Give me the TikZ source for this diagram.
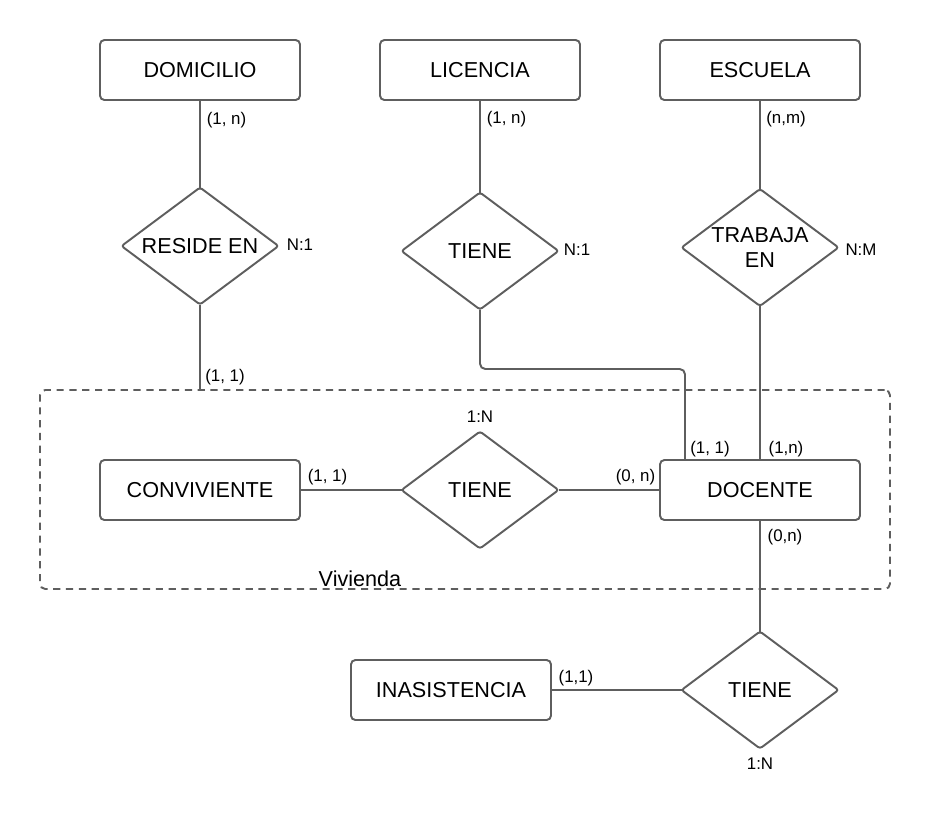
\documentclass[tikz,border=0pt]{standalone}
\usepackage{fontspec}
\setmainfont{Liberation Sans}
\usetikzlibrary{shapes.geometric, positioning, calc}
\definecolor{linegray}{RGB}{94, 94, 94}

\begin{document}
\begin{tikzpicture}[
    entity/.style={rectangle, rounded corners=2.5pt, draw=linegray, line width=1.1pt, fill=white, minimum width=4cm, minimum height=1.2cm, align=center, font=\fontsize{12.3}{14.7}\selectfont},
    relation/.style={diamond, aspect=1.34, rounded corners=1.5pt, draw=linegray, line width=1.1pt, fill=white, minimum width=3.14cm, minimum height=2.34cm, inner sep=0pt, outer sep=0pt, align=center, font=\fontsize{12.3}{14.7}\selectfont},
    group/.style={rectangle, rounded corners=3pt, draw=linegray, line width=1.1pt, dash pattern=on 4.1pt off 3.2pt, minimum width=17cm, minimum height=3.98cm},
    conn/.style={draw=linegray, line width=1.1pt},
    card/.style={font=\fontsize{9.6}{11}\selectfont, inner sep=1pt}
]
\useasboundingbox (0, 0) rectangle (18.62, -16.7);

% Agrupacion Vivienda
\node[group] (vivienda) at (9.3, -9.79) {};
\node[font=\fontsize{12.3}{14.7}\selectfont] (viv_lbl) at (7.2, -11.58) {Vivienda};

% === Entidades ===
\node[entity] (domicilio) at (4, -1.4) {DOMICILIO};
\node[entity] (licencia) at (9.6, -1.4) {LICENCIA};
\node[entity] (escuela) at (15.2, -1.4) {ESCUELA};
\node[entity] (conviviente) at (4, -9.8) {CONVIVIENTE};
\node[entity] (docente) at (15.2, -9.8) {DOCENTE};
\node[entity] (inasistencia) at (9.02, -13.8) {INASISTENCIA};

% === Relaciones ===
\node[relation] (reside) at (4, -4.92) {RESIDE EN};
\node[relation] (tiene_lic) at (9.6, -5.02) {TIENE};
\node[relation] (trabaja) at (15.2, -4.95) {TRABAJA\\EN};
\node[relation] (tiene_conv) at (9.6, -9.8) {TIENE};
\node[relation] (tiene_ina) at (15.2, -13.8) {TIENE};

% Conectores
\coordinate (bend) at (13.7, -7.38);
\draw[conn] (domicilio) -- (reside);
\draw[conn] (reside) -- (reside |- vivienda.north);
\draw[conn] (licencia) -- (tiene_lic);
\draw[conn, rounded corners=3pt] (tiene_lic.south) |- (bend) -- (bend |- docente.north);
\draw[conn] (escuela) -- (trabaja);
\draw[conn] (trabaja) -- (docente);
\draw[conn] (conviviente) -- (tiene_conv);
\draw[conn] (tiene_conv) -- (docente);
\draw[conn] (docente) -- (tiene_ina);
\draw[conn] (inasistencia) -- (tiene_ina);

% Cardinalidades
\node[card] (c_dom) at (4.53, -2.4) {(1, n)};
\node[card] (c_res) at (4.5, -7.54) {(1, 1)};
\node[card] (t_res) at (6.0, -4.9) {N:1};
\node[card] (c_lic) at (10.13, -2.38) {(1, n)};
\node[card] (t_lic) at (11.54, -5.0) {N:1};
\node[card] (c_esc) at (15.72, -2.38) {(n,m)};
\node[card] (t_tra) at (17.22, -5.0) {N:M};
\node[card] (t_conv) at (9.6, -8.34) {1:N};
\node[card] (c_conv) at (6.55, -9.54) {(1, 1)};
\node[card] (c_doc1) at (12.71, -9.54) {(0, n)};
\node[card] (c_doc2) at (14.2, -8.98) {(1, 1)};
\node[card] (c_doc3) at (15.72, -8.98) {(1,n)};
\node[card] (c_doc4) at (15.7, -10.74) {(0,n)};
\node[card] (c_ina) at (11.52, -13.56) {(1,1)};
\node[card] (t_ina) at (15.2, -15.28) {1:N};

\end{tikzpicture}
\end{document}
